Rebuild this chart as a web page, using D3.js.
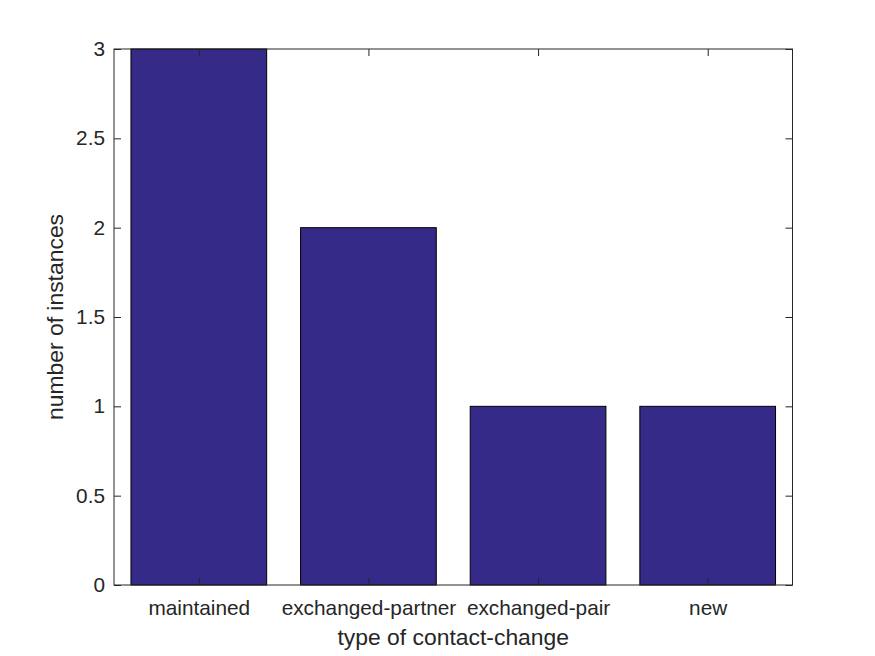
<!DOCTYPE html>
<html>
<head>
<meta charset="utf-8">
<script src="https://cdn.jsdelivr.net/npm/d3@7"></script>
<style>
  html, body { margin: 0; padding: 0; background: #fff; }
  svg { display: block; }
  text { font-family: "Liberation Sans", Arial, Helvetica, sans-serif; fill: #262626; }
</style>
</head>
<body>
<svg id="chart" width="875" height="656"></svg>
<script>
const categories = ["maintained", "exchanged-partner", "exchanged-pair", "new"];
const values = [3, 2, 1, 1];
const yTicks = [0, 0.5, 1, 1.5, 2, 2.5, 3];
const yTickLabels = ["0", "0.5", "1", "1.5", "2", "2.5", "3"];
const xLabel = "type of contact-change";
const yLabel = "number of instances";

const W = 875, H = 656;
const m = { left: 114, right: 792.5, top: 49, bottom: 585 };
const svg = d3.select("#chart");

svg.append("rect").attr("width", W).attr("height", H).attr("fill", "#fff");

const x = d3.scaleLinear().domain([0.5, categories.length + 0.5]).range([m.left, m.right]);
const y = d3.scaleLinear().domain([0, 3]).range([m.bottom, m.top]);
const barW = 0.8;

svg.append("rect")
  .attr("x", m.left).attr("y", m.top)
  .attr("width", m.right - m.left).attr("height", m.bottom - m.top)
  .attr("fill", "#fff");

svg.append("g").selectAll("rect")
  .data(values)
  .join("rect")
  .attr("x", (d, i) => x(i + 1 - barW / 2))
  .attr("width", (d, i) => x(i + 1 + barW / 2) - x(i + 1 - barW / 2))
  .attr("y", d => y(d))
  .attr("height", d => y(0) - y(d))
  .attr("fill", "#352a87")
  .attr("stroke", "#000")
  .attr("stroke-width", 1);

const tickLen = 7;
const axisColor = "#262626";
const fontTick = 20.8;

const xAxis = d3.axisBottom(x)
  .tickValues(d3.range(1, categories.length + 1))
  .tickFormat((d) => categories[d - 1])
  .tickSizeInner(-tickLen).tickSizeOuter(0).tickPadding(15);
const gx = svg.append("g").attr("transform", `translate(0,${m.bottom})`).call(xAxis);
gx.select(".domain").remove();
gx.selectAll(".tick line").attr("stroke", axisColor);
gx.selectAll(".tick text").attr("font-size", fontTick).attr("fill", axisColor)
  .attr("font-family", "Liberation Sans, Arial, sans-serif");

const xTop = d3.axisTop(x)
  .tickValues(d3.range(1, categories.length + 1))
  .tickFormat("").tickSizeInner(-tickLen).tickSizeOuter(0);
const gxt = svg.append("g").attr("transform", `translate(0,${m.top})`).call(xTop);
gxt.select(".domain").remove();
gxt.selectAll(".tick line").attr("stroke", axisColor);

const yAxis = d3.axisLeft(y)
  .tickValues(yTicks)
  .tickFormat((d, i) => yTickLabels[i])
  .tickSizeInner(-tickLen).tickSizeOuter(0).tickPadding(9);
const gy = svg.append("g").attr("transform", `translate(${m.left},0)`).call(yAxis);
gy.select(".domain").remove();
gy.selectAll(".tick line").attr("stroke", axisColor);
gy.selectAll(".tick text").attr("font-size", fontTick).attr("fill", axisColor)
  .attr("font-family", "Liberation Sans, Arial, sans-serif");

const yRight = d3.axisRight(y).tickValues(yTicks).tickFormat("")
  .tickSizeInner(-tickLen).tickSizeOuter(0);
const gyr = svg.append("g").attr("transform", `translate(${m.right},0)`).call(yRight);
gyr.select(".domain").remove();
gyr.selectAll(".tick line").attr("stroke", axisColor);

svg.append("rect")
  .attr("x", m.left).attr("y", m.top)
  .attr("width", m.right - m.left).attr("height", m.bottom - m.top)
  .attr("fill", "none").attr("stroke", axisColor).attr("stroke-width", 1);

svg.append("text")
  .attr("x", (m.left + m.right) / 2).attr("y", 645)
  .attr("text-anchor", "middle")
  .attr("font-size", 22.9)
  .text(xLabel);

svg.append("text")
  .attr("transform", `translate(63,${(m.top + m.bottom) / 2}) rotate(-90)`)
  .attr("text-anchor", "middle")
  .attr("font-size", 22.9)
  .text(yLabel);
</script>
</body>
</html>
